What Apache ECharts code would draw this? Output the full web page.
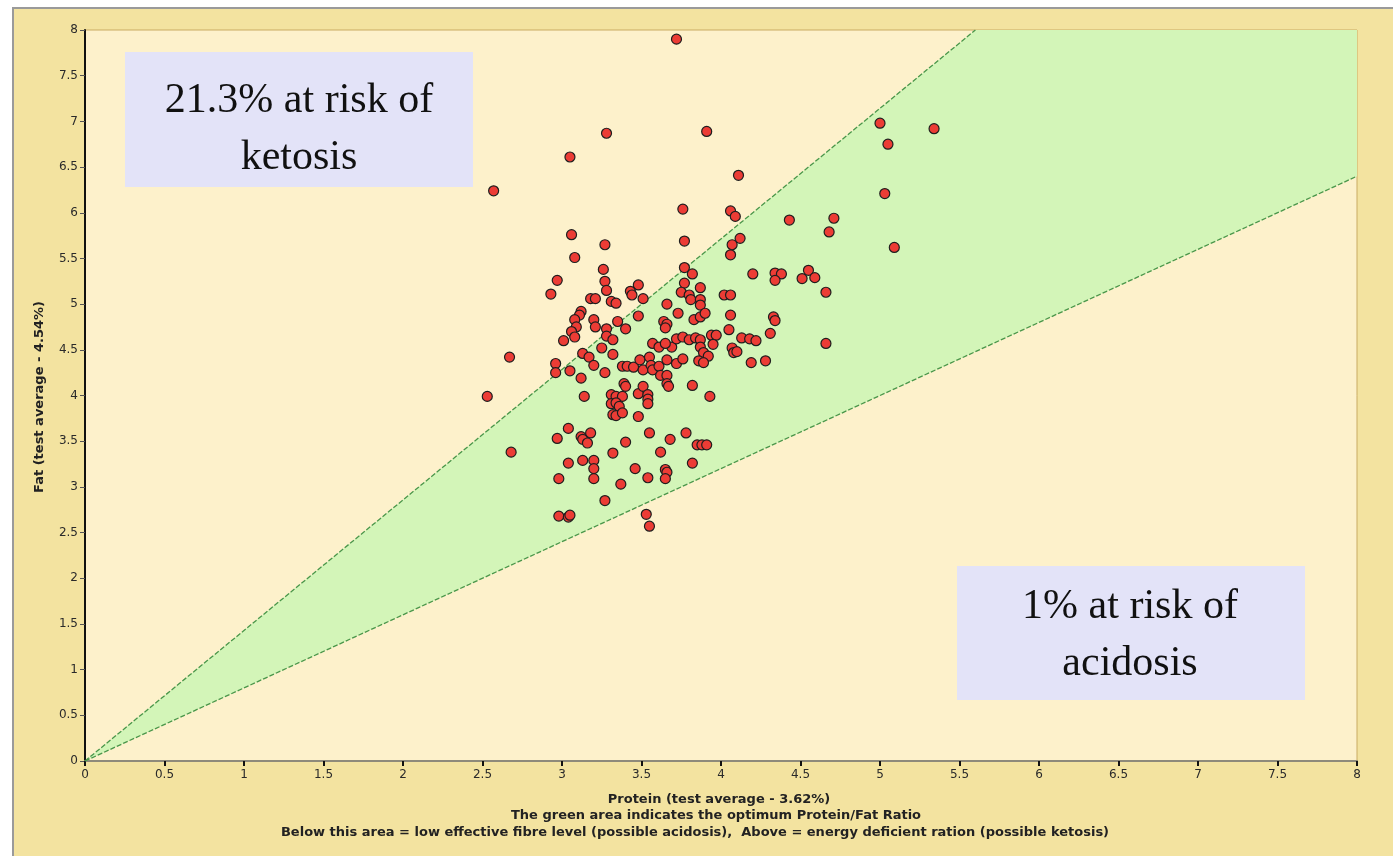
<!DOCTYPE html>
<html>
<head>
<meta charset="utf-8">
<script src="https://cdn.jsdelivr.net/npm/echarts@6/dist/echarts.min.js"></script>
<style>
html,body{margin:0;padding:0;background:#ffffff;}
#chart{width:1393px;height:856px;}
</style>
</head>
<body>
<div id="chart"></div>
<script>
// Protein (%) values of each herd test
const protein = [
3.72,3.28,3.91,3.05,2.57,3.76,3.06,3.27,3.77,5.00,5.34,5.05,4.11,5.03,4.06,4.09,4.43,4.71,4.68,4.12,4.07,4.06,5.09,
3.08,3.26,2.97,3.27,3.28,3.48,3.43,3.44,2.93,3.18,3.21,3.31,3.34,3.51,3.77,3.82,3.77,3.87,3.75,3.80,3.81,3.87,3.87,3.66,
3.12,3.11,3.08,3.09,3.06,3.08,3.20,3.21,3.35,3.48,3.28,3.28,3.40,3.32,3.01,3.73,3.64,3.66,3.65,3.83,3.87,3.90,
3.25,3.32,3.13,3.17,3.20,2.67,2.96,2.96,3.05,3.12,3.27,3.38,3.41,3.45,3.49,3.51,3.55,3.56,3.57,3.61,3.57,3.61,3.69,3.66,3.72,3.76,3.62,3.66,
3.39,3.40,3.31,3.34,3.38,3.48,3.51,3.54,3.54,3.54,3.14,3.31,3.34,3.36,3.32,3.34,3.38,3.48,3.66,3.67,2.53,
3.04,2.97,3.12,3.13,3.16,3.18,3.40,3.55,3.68,3.78,2.68,3.04,3.13,3.20,3.20,3.32,3.62,2.98,3.20,3.37,3.46,3.54,3.65,3.66,3.65,3.27,2.98,3.04,3.05,3.53,3.55,
3.72,3.76,3.80,3.84,3.87,3.87,3.89,3.92,3.86,3.89,3.94,3.97,3.95,3.65,
4.20,4.34,4.38,4.34,4.55,4.51,4.59,4.66,4.02,4.06,4.06,4.05,4.33,4.34,4.31,4.13,4.18,4.22,4.07,4.08,4.10,4.19,4.28,4.66,3.93,3.85,3.88,3.91,3.82,3.82
];
// Fat (%) values, same order
const fat = [
7.90,6.87,6.89,6.61,6.24,6.04,5.76,5.65,5.69,6.98,6.92,6.75,6.41,6.21,6.02,5.96,5.92,5.94,5.79,5.72,5.65,5.54,5.62,
5.51,5.38,5.26,5.25,5.15,5.21,5.14,5.10,5.11,5.06,5.06,5.03,5.01,5.06,5.40,5.33,5.23,5.18,5.13,5.10,5.05,5.05,4.99,5.00,
4.92,4.88,4.83,4.75,4.70,4.64,4.83,4.75,4.81,4.87,4.73,4.65,4.73,4.61,4.60,4.90,4.81,4.78,4.74,4.83,4.86,4.90,
4.52,4.45,4.46,4.42,4.33,4.42,4.35,4.25,4.27,4.19,4.25,4.32,4.32,4.31,4.39,4.28,4.42,4.33,4.28,4.32,4.57,4.53,4.53,4.39,4.35,4.40,4.22,4.22,
4.13,4.10,4.01,3.99,3.99,4.02,4.10,4.01,3.96,3.91,3.99,3.91,3.92,3.88,3.79,3.78,3.81,3.77,4.13,4.10,3.99,
3.64,3.53,3.55,3.52,3.48,3.59,3.49,3.59,3.52,3.59,3.38,3.26,3.29,3.29,3.20,3.37,3.38,3.09,3.09,3.03,3.20,3.10,3.19,3.16,3.09,2.85,2.68,2.67,2.69,2.70,2.57,
4.62,4.64,4.61,4.63,4.61,4.53,4.47,4.43,4.38,4.36,4.66,4.66,4.56,4.57,
5.33,5.34,5.33,5.26,5.37,5.28,5.29,5.13,5.10,5.10,4.88,4.72,4.86,4.82,4.68,4.63,4.62,4.60,4.52,4.47,4.48,4.36,4.38,4.57,3.99,3.46,3.46,3.46,3.26,4.11
];
// Optimum protein/fat ratio band (protein ÷ fat)
const ratioLow = 0.7;
const ratioHigh = 1.25;
const axisMax = 8;
const tickLabels = ['0','0.5','1','1.5','2','2.5','3','3.5','4','4.5','5','5.5','6','6.5','7','7.5','8'];
const ketosisText = ['21.3% at risk of', 'ketosis'];
const acidosisText = ['1% at risk of', 'acidosis'];
const xTitle = 'Protein (test average - 3.62%)';
const yTitle = 'Fat (test average - 4.54%)';
const noteLine1 = 'The green area indicates the optimum Protein/Fat Ratio';
const noteLine2 = 'Below this area = low effective fibre level (possible acidosis),  Above = energy deficient ration (possible ketosis)';

const points = protein.map((p, i) => [p, fat[i]]);
const band = [[0, 0], [axisMax, axisMax / ratioHigh], [axisMax, axisMax], [axisMax * ratioLow, axisMax]];
const upperLine = [[0, 0], [axisMax * ratioLow, axisMax]];
const lowerLine = [[0, 0], [axisMax, axisMax / ratioHigh]];

const chart = echarts.init(document.getElementById('chart'), null, {renderer: 'canvas'});
const tickFont = {color: '#2a2a2a', fontSize: 12, fontFamily: '"DejaVu Sans", Verdana, sans-serif'};
const boldNote = 'bold 13px "DejaVu Sans", Verdana, sans-serif';
const bigFont = '42px "Liberation Serif", "DejaVu Serif", serif';
const option = {
  animation: false,
  backgroundColor: '#ffffff',
  grid: {left: 85, top: 30, right: 36, bottom: 95, show: true, backgroundColor: '#fdf1cb', borderColor: '#c9ab63', borderWidth: 1},
  xAxis: {
    type: 'value', min: 0, max: 8, interval: 0.5,
    axisLine: {show: true, onZero: false, lineStyle: {color: '#8e8a7a', width: 2}},
    axisTick: {show: true, length: 5, lineStyle: {color: '#111', width: 2}},
    axisLabel: Object.assign({margin: 8, formatter: (v) => tickLabels[Math.round(v * 2)]}, tickFont),
    splitLine: {show: false}
  },
  yAxis: {
    type: 'value', min: 0, max: 8, interval: 0.5,
    axisLine: {show: true, onZero: false, lineStyle: {color: '#111', width: 2}},
    axisTick: {show: true, length: 5, lineStyle: {color: '#555', width: 1}},
    axisLabel: Object.assign({margin: 7, formatter: (v) => tickLabels[Math.round(v * 2)]}, tickFont),
    splitLine: {show: false}
  },
  graphic: [
    {type: 'rect', z: -10, silent: true, shape: {x: 13, y: 8, width: 1400, height: 860}, style: {fill: '#f3e3a0', stroke: '#9a9a9a', lineWidth: 2}},
    {type: 'rect', z: 100, shape: {x: 125, y: 52, width: 348, height: 135}, style: {fill: '#e3e3f8'}},
    {type: 'text', z: 101, x: 299, y: 129, style: {text: ketosisText.join('\n'), align: 'center', verticalAlign: 'middle', font: bigFont, fill: '#111', lineHeight: 57}},
    {type: 'rect', z: 100, shape: {x: 957, y: 566, width: 348, height: 134}, style: {fill: '#e3e3f8'}},
    {type: 'text', z: 101, x: 1130, y: 635, style: {text: acidosisText.join('\n'), align: 'center', verticalAlign: 'middle', font: bigFont, fill: '#111', lineHeight: 57}},
    {type: 'text', z: 101, x: 719, y: 800, style: {text: xTitle, align: 'center', verticalAlign: 'middle', font: boldNote, fill: '#222'}},
    {type: 'text', z: 101, x: 716, y: 816, style: {text: noteLine1, align: 'center', verticalAlign: 'middle', font: boldNote, fill: '#222'}},
    {type: 'text', z: 101, x: 695, y: 833, style: {text: noteLine2, align: 'center', verticalAlign: 'middle', font: boldNote, fill: '#222'}},
    {type: 'text', z: 101, x: 40, y: 397, rotation: Math.PI / 2, style: {text: yTitle, align: 'center', verticalAlign: 'middle', font: boldNote, fill: '#222'}}
  ],
  series: [
    {
      type: 'custom', silent: true, z: 1,
      renderItem: function (params, api) {
        const pts = band.map(d => api.coord(d));
        return {type: 'polygon', shape: {points: pts}, style: {fill: '#d3f5b8'}};
      },
      data: [0]
    },
    {type: 'line', data: upperLine, symbol: 'none', z: 2, lineStyle: {color: '#4a964a', width: 1.3, type: [5, 2]}},
    {type: 'line', data: lowerLine, symbol: 'none', z: 2, lineStyle: {color: '#4a964a', width: 1.3, type: [5, 2]}},
    {type: 'scatter', data: points, z: 5, symbol: 'circle', symbolSize: 10,
     itemStyle: {color: '#ec3c35', borderColor: '#1e1e1e', borderWidth: 1.2, opacity: 1}}
  ]
};
chart.setOption(option);
</script>
</body>
</html>
